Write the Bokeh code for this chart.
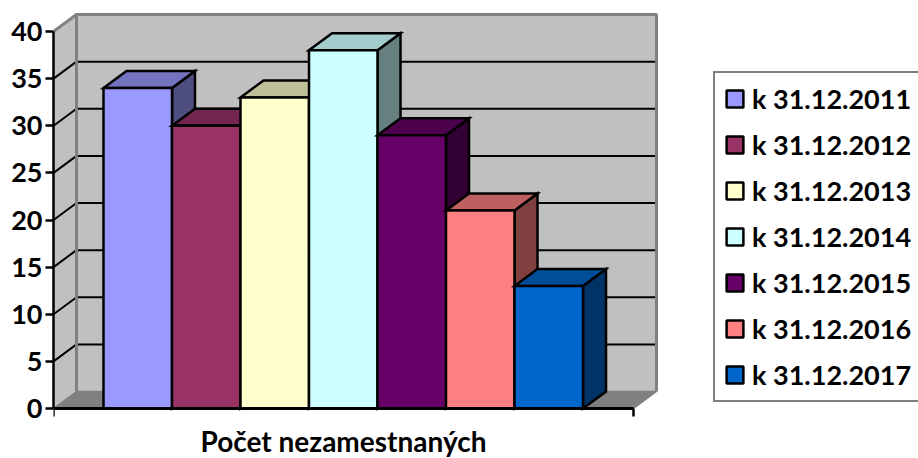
from bokeh.plotting import figure
from bokeh.models import Range1d, FixedTicker, Legend, LegendItem, Label
from bokeh.embed import file_html
from bokeh.resources import INLINE

series = ["k 31.12.2011", "k 31.12.2012", "k 31.12.2013", "k 31.12.2014",
          "k 31.12.2015", "k 31.12.2016", "k 31.12.2017"]
values = [34, 30, 33, 38, 29, 21, 13]
y_ticks = [0, 5, 10, 15, 20, 25, 30, 35, 40]
category = "Počet nezamestnaných"

front = ["#9999ff", "#993366", "#ffffcc", "#ccffff", "#660066", "#ff8080", "#0066cc"]
top = ["#7373bf", "#732650", "#bfbf99", "#a3cccc", "#4d004d", "#bf6060", "#004d99"]
side = ["#4d4d80", "#4d1a33", "#808066", "#668080", "#330033", "#804040", "#003366"]

W, H = 918, 458
FL, FB = 53, 50                 # px left of the plane, px below value 0
PX_X = 68.5                     # px per bar
PX_Y = 9.425                    # px per value unit
GAP = 50 / PX_X
DX = 23 / PX_X
DY = 17 / PX_Y
PLANE = 580 / PX_X
YMAX = max(y_ticks)
FONT = "Lato"

p = figure(width=W, height=H, output_backend="svg", toolbar_location=None,
           x_range=Range1d(0, (W - FL) / PX_X),
           y_range=Range1d(-FB / PX_Y, (H - FB) / PX_Y),
           min_border_left=FL, min_border_bottom=0, min_border_top=0, min_border_right=0,
           outline_line_color=None, background_fill_color="white", border_fill_color="white")
p.grid.visible = False

# walls and floor
WALL = "#808080"
p.patch([DX, PLANE + DX, PLANE + DX, DX], [DY, DY, YMAX + DY, YMAX + DY],
        fill_color="#c0c0c0", line_color=None)
p.patch([0, DX, DX, 0], [0, DY, YMAX + DY, YMAX], fill_color="#c0c0c0", line_color=None)
p.patch([0, DX, PLANE + DX, PLANE], [0, DY, DY, 0], fill_color=WALL, line_color=None)

# gridlines on both walls
inner = [t for t in y_ticks if 0 < t < YMAX]
p.segment([DX] * len(inner), [t + DY for t in inner], [PLANE + DX] * len(inner), [t + DY for t in inner],
          line_color="black", line_width=2)
p.segment([0] * len(inner), inner, [DX] * len(inner), [t + DY for t in inner],
          line_color="black", line_width=2)

# wall outline
p.line([0, DX, PLANE + DX, PLANE + DX], [YMAX, YMAX + DY, YMAX + DY, DY], line_color=WALL, line_width=3)
p.line([DX, DX], [DY, YMAX + DY], line_color=WALL, line_width=3)
p.line([0, DX, PLANE + DX, PLANE], [0, DY, DY, 0], line_color=WALL, line_width=1.5)

items = []
for i, (name, v) in enumerate(zip(series, values)):
    x0 = GAP + i
    x1 = x0 + 1
    p.patch([x1, x1 + DX, x1 + DX, x1], [0, DY, v + DY, v],
            fill_color=side[i], line_color="black", line_width=2.5, line_join="miter")
    p.patch([x0, x0 + DX, x1 + DX, x1], [v, v + DY, v + DY, v],
            fill_color=top[i], line_color="black", line_width=2.5, line_join="miter")
    r = p.quad(left=x0, right=x1, bottom=0, top=v,
               fill_color=front[i], line_color="black", line_width=2.5)
    items.append(LegendItem(label=name, renderers=[r]))

# axes
p.yaxis.bounds = (0, YMAX)
p.yaxis.ticker = FixedTicker(ticks=y_ticks)
p.yaxis.minor_tick_line_color = None
p.yaxis.major_tick_in = 0
p.yaxis.major_tick_out = 8
p.yaxis.major_tick_line_width = 2.5
p.yaxis.axis_line_width = 2.5
p.yaxis.axis_line_color = "black"
p.yaxis.major_tick_line_color = "black"
p.yaxis.major_label_text_font = FONT
p.yaxis.major_label_text_font_style = "bold"
p.yaxis.major_label_text_font_size = "27px"
p.yaxis.major_label_text_color = "black"
p.yaxis.major_label_standoff = 3

p.xaxis.fixed_location = 0
p.xaxis.bounds = (0, PLANE)
p.xaxis.ticker = FixedTicker(ticks=[], minor_ticks=[0, PLANE])
p.xaxis.minor_tick_in = 0
p.xaxis.minor_tick_out = 8
p.xaxis.minor_tick_line_width = 2.5
p.xaxis.minor_tick_line_color = "black"
p.xaxis.axis_line_width = 3
p.xaxis.axis_line_color = "black"

p.add_layout(Label(x=PLANE / 2, y=-32 / PX_Y, text=category, text_align="center", text_baseline="middle",
                   text_font=FONT, text_font_style="bold", text_font_size="28px", text_color="black"))

legend = Legend(items=items, location=(660, 56), orientation="vertical",
                label_text_font=FONT, label_text_font_style="bold", label_text_font_size="27px",
                label_text_color="black", glyph_width=21, glyph_height=21, label_standoff=7,
                spacing=13, padding=9, margin=0,
                border_line_color="black", border_line_width=2.5, background_fill_color="white",
                background_fill_alpha=1)
p.add_layout(legend, "center")

open("out.html", "w").write(file_html(p, INLINE))
